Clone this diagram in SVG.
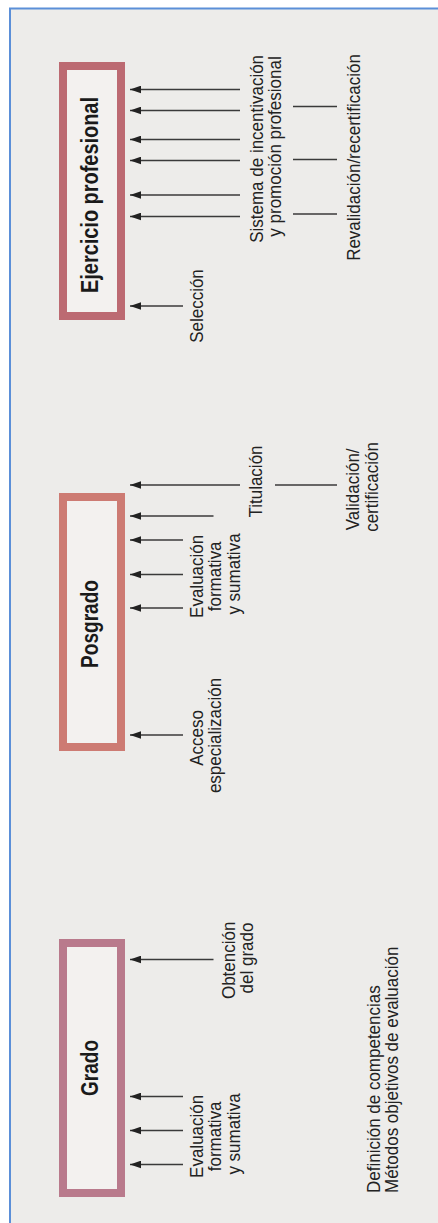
<svg xmlns="http://www.w3.org/2000/svg" width="438" height="1223" viewBox="0 0 438 1223">
  <style>
    .box { stroke-width: 8; fill: #f3f1ef; }
    .title { font-family: "Liberation Sans Narrow", "Liberation Sans", Arial, sans-serif; font-weight: bold; font-size: 21px; fill: #1a1a1a; }
    .lbl { font-family: "Liberation Sans", Arial, sans-serif; font-size: 17px; fill: #222; }
    .arr { stroke: #3a3a3a; stroke-width: 1.3; fill: none; marker-end: url(#head); }
    .rule { stroke: #3a3a3a; stroke-width: 1.3; fill: none; }
  </style>
  <defs>
    <marker id="head" markerUnits="userSpaceOnUse" markerWidth="11" markerHeight="8" viewBox="0 0 10 7" refX="10" refY="3.5" orient="auto">
      <path d="M0,0 L10,3.5 L0,7 z" fill="#222"/>
    </marker>
  </defs>

  <!-- panel -->
  <rect x="0" y="0" width="438" height="1223" fill="#ffffff"/>
  <rect x="10" y="8.5" width="440" height="1230" fill="#edecea" stroke="#5b8fd8" stroke-width="2"/>

  <!-- stages -->
  <g id="ejercicio">
    <rect class="box" x="63" y="66" width="58" height="250" stroke="#bc6a72"/>
    <text class="title" transform="translate(97.5,195) rotate(-90) scale(1,1.1)" text-anchor="middle" textLength="196" lengthAdjust="spacingAndGlyphs">Ejercicio profesional</text>
  </g>
  <g id="posgrado">
    <rect class="box" x="63" y="497" width="58" height="250" stroke="#cd7b73"/>
    <text class="title" transform="translate(97.5,624) rotate(-90) scale(1,1.1)" text-anchor="middle" textLength="88" lengthAdjust="spacingAndGlyphs">Posgrado</text>
  </g>
  <g id="grado">
    <rect class="box" x="63" y="943" width="58" height="250" stroke="#b97a8c"/>
    <text class="title" transform="translate(97.5,1068) rotate(-90) scale(1,1.1)" text-anchor="middle" textLength="56" lengthAdjust="spacingAndGlyphs">Grado</text>
  </g>

  <!-- connectors -->
  <g id="connectors">
    <!-- into Ejercicio profesional -->
    <line class="arr" x1="240" y1="89.5" x2="130" y2="89.5"/>
    <line class="arr" x1="240" y1="110.5" x2="130" y2="110.5"/>
    <line class="arr" x1="240" y1="139.5" x2="130" y2="139.5"/>
    <line class="arr" x1="240" y1="160.5" x2="130" y2="160.5"/>
    <line class="arr" x1="240" y1="195" x2="130" y2="195"/>
    <line class="arr" x1="240" y1="216.5" x2="130" y2="216.5"/>
    <line class="arr" x1="183" y1="306" x2="130" y2="306"/>
    <line class="rule" x1="293" y1="106.5" x2="337" y2="106.5"/>
    <line class="rule" x1="293" y1="159.5" x2="337" y2="159.5"/>
    <line class="rule" x1="293" y1="214" x2="337" y2="214"/>
    <!-- into Posgrado -->
    <line class="arr" x1="240" y1="485" x2="130" y2="485"/>
    <line class="arr" x1="213.5" y1="516" x2="130" y2="516"/>
    <line class="arr" x1="183" y1="540" x2="130" y2="540"/>
    <line class="arr" x1="183" y1="574.5" x2="130" y2="574.5"/>
    <line class="arr" x1="183" y1="608" x2="130" y2="608"/>
    <line class="arr" x1="183" y1="735" x2="130" y2="735"/>
    <line class="rule" x1="275" y1="485" x2="337" y2="485"/>
    <!-- into Grado -->
    <line class="arr" x1="213.5" y1="959.5" x2="130" y2="959.5"/>
    <line class="arr" x1="183" y1="1096.5" x2="130" y2="1096.5"/>
    <line class="arr" x1="183" y1="1130.5" x2="130" y2="1130.5"/>
    <line class="arr" x1="183" y1="1164.5" x2="130" y2="1164.5"/>
  </g>

  <!-- labels (glyphs stretched slightly across the baseline for a condensed look) -->
  <g id="labels">
    <text class="lbl" transform="translate(203,306) rotate(-90) scale(1,1.12)" text-anchor="middle">Selección</text>
    <text class="lbl" transform="translate(262.5,146.5) rotate(-90) scale(1,1.12)" text-anchor="middle">
      <tspan x="0" y="0">Sistema de incentivación</tspan>
      <tspan x="0" y="16.5">y promoción profesional</tspan>
    </text>
    <text class="lbl" transform="translate(359.5,157.5) rotate(-90) scale(1,1.12)" text-anchor="middle">Revalidación/recertificación</text>

    <text class="lbl" transform="translate(262,481.5) rotate(-90) scale(1,1.12)" text-anchor="middle">Titulación</text>
    <text class="lbl" transform="translate(359,487) rotate(-90) scale(1,1.12)" text-anchor="middle">
      <tspan x="0" y="0">Validación/</tspan>
      <tspan x="0" y="17.4">certificación</tspan>
    </text>
    <text class="lbl" transform="translate(203,574) rotate(-90) scale(1,1.12)" text-anchor="middle">
      <tspan x="0" y="0">Evaluación</tspan>
      <tspan x="0" y="16.5">formativa</tspan>
      <tspan x="0" y="33">y sumativa</tspan>
    </text>
    <text class="lbl" transform="translate(203,735.5) rotate(-90) scale(1,1.12)" text-anchor="middle">
      <tspan x="0" y="0">Acceso</tspan>
      <tspan x="0" y="16.5">especialización</tspan>
    </text>

    <text class="lbl" transform="translate(235,958) rotate(-90) scale(1,1.12)" text-anchor="middle">
      <tspan x="0" y="0">Obtención</tspan>
      <tspan x="0" y="16.5">del grado</tspan>
    </text>
    <text class="lbl" transform="translate(203,1134) rotate(-90) scale(1,1.12)" text-anchor="middle">
      <tspan x="0" y="0">Evaluación</tspan>
      <tspan x="0" y="16.5">formativa</tspan>
      <tspan x="0" y="33">y sumativa</tspan>
    </text>
    <text class="lbl" transform="translate(379.5,1193) rotate(-90) scale(1,1.12)">
      <tspan x="0" y="0">Definición de competencias</tspan>
      <tspan x="0" y="16.1">Métodos objetivos de evaluación</tspan>
    </text>
  </g>
</svg>
